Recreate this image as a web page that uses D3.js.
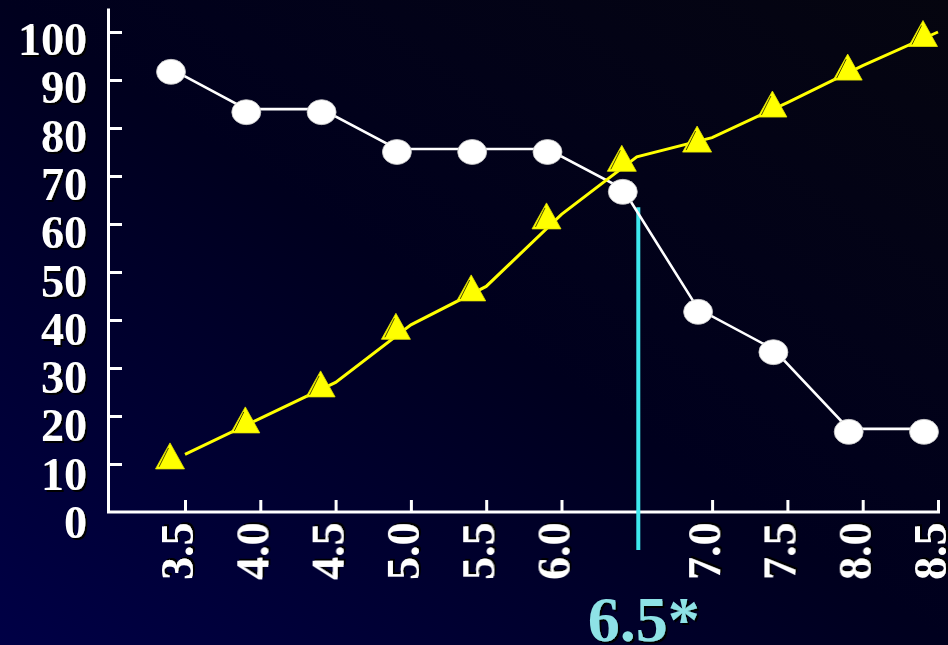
<!DOCTYPE html>
<html><head><meta charset="utf-8">
<script src="https://cdn.jsdelivr.net/npm/d3@7"></script>
<style>
html,body{margin:0;padding:0;background:#000020;}
svg{display:block;}
text{font-family:"Liberation Serif","Times New Roman",serif;font-weight:bold;}
</style></head>
<body>
<svg id="chart" width="948" height="645"></svg>
<script>
// ---- data ----
const cutoffs = [3.5, 4.0, 4.5, 5.0, 5.5, 6.0, 6.5, 7.0, 7.5, 8.0, 8.5];
const whiteSeries = [91.7, 83.3, 83.3, 75, 75, 75, 66.7, 41.7, 33.3, 16.7, 16.7];
const yellowSeries = [12, 19.5, 27, 39, 47, 62, 74, 78, 85.3, 93, 100];
const xTickValues = [3.5, 4.0, 4.5, 5.0, 5.5, 6.0, 7.0, 7.5, 8.0, 8.5];
const xTickLabels = ["3.5", "4.0", "4.5", "5.0", "5.5", "6.0", "7.0", "7.5", "8.0", "8.5"];
const yTickValues = [10, 20, 30, 40, 50, 60, 70, 80, 90, 100];
const yTickLabels = ["0", "10", "20", "30", "40", "50", "60", "70", "80", "90", "100"];
const yLabelValues = [0, 10, 20, 30, 40, 50, 60, 70, 80, 90, 100];
const cutoffValue = 6.5;
const cutoffLabel = "6.5*";
const cutoffTop = 63.5;

const svg = d3.select("#chart");
const W = 948, H = 645;

// background gradient
const defs = svg.append("defs");
const grad = defs.append("linearGradient").attr("id", "bg")
  .attr("x1", "0").attr("y1", "1").attr("x2", "1").attr("y2", "0");
grad.append("stop").attr("offset", "0").attr("stop-color", "#000046");
grad.append("stop").attr("offset", "0.5").attr("stop-color", "#00001e");
grad.append("stop").attr("offset", "1").attr("stop-color", "#05050f");
const sh = defs.append("filter").attr("id", "shadow")
  .attr("x", "-20%").attr("y", "-20%").attr("width", "140%").attr("height", "140%");
sh.append("feDropShadow").attr("dx", 2).attr("dy", 2).attr("stdDeviation", 0.4)
  .attr("flood-color", "#000").attr("flood-opacity", 1);

svg.append("rect").attr("width", W).attr("height", H).attr("fill", "url(#bg)");

// scales
const x = d3.scaleLinear().domain([3.5, 8.5]).range([185, 938]);
const y = d3.scaleLinear().domain([0, 105]).range([512, 8]);
const yLab = d3.scaleLinear().domain([0, 100]).range([538, 55]);

// y axis
const yAxisG = svg.append("g").attr("transform", "translate(108,0)")
  .call(d3.axisRight(y).tickValues(yTickValues).tickSizeInner(14).tickSizeOuter(0).tickFormat(""));
yAxisG.selectAll("path,line").attr("stroke", "#fff").attr("stroke-width", 3);

// x axis
const xAxisG = svg.append("g").attr("transform", "translate(0,512)")
  .call(d3.axisTop(x).tickValues(xTickValues).tickSizeInner(12).tickSizeOuter(0).tickFormat(""));
xAxisG.select("path.domain").attr("d", "M107,0H940");
xAxisG.selectAll("path,line").attr("stroke", "#fff").attr("stroke-width", 3);

// y labels
svg.append("g").selectAll("text").data(yLabelValues).join("text")
  .attr("x", 87).attr("y", d => yLab(d))
  .attr("text-anchor", "end").attr("fill", "#fff").attr("font-size", 46)
  .attr("filter", "url(#shadow)")
  .text((d, i) => yTickLabels[i]);

// x labels (rotated)
svg.append("g").selectAll("text").data(xTickValues).join("text")
  .attr("transform", d => `translate(${x(d) + 8},580) rotate(-90)`)
  .attr("text-anchor", "start").attr("fill", "#fff").attr("font-size", 46)
  .attr("filter", "url(#shadow)")
  .text((d, i) => xTickLabels[i]);

// cutoff line
svg.append("line")
  .attr("x1", x(cutoffValue) + 1.5).attr("x2", x(cutoffValue) + 1.5)
  .attr("y1", y(cutoffTop)).attr("y2", y(0) + 38)
  .attr("stroke", "#3ee8ee").attr("stroke-width", 4);
svg.append("text")
  .attr("x", x(cutoffValue) - 49).attr("y", 641)
  .attr("fill", "#8ee2e6").attr("font-size", 64)
  .attr("filter", "url(#shadow)")
  .text(cutoffLabel);

// white series
const whiteG = svg.append("g").attr("transform", "translate(-14,0)");
whiteG.append("path")
  .datum(cutoffs.map((c, i) => [c, whiteSeries[i]]))
  .attr("transform", "translate(0,-3)")
  .attr("fill", "none").attr("stroke", "#fff").attr("stroke-width", 2.6)
  .attr("d", d3.line().x(d => x(d[0])).y(d => y(d[1])));
whiteG.selectAll("ellipse").data(cutoffs).join("ellipse")
  .attr("cx", d => x(d)).attr("cy", (d, i) => y(whiteSeries[i]))
  .attr("rx", 14.5).attr("ry", 12.5)
  .attr("fill", "#fff").attr("stroke", "#c8c8c8").attr("stroke-width", 0.8);

// yellow series
svg.append("path")
  .datum(cutoffs.map((c, i) => [c, yellowSeries[i]]))
  .attr("fill", "none").attr("stroke", "#ffff00").attr("stroke-width", 3)
  .attr("d", d3.line().x(d => x(d[0])).y(d => y(d[1])));
const triG = svg.append("g").attr("transform", "translate(-15,1.5)");
const tri = triG.selectAll("g").data(cutoffs).join("g")
  .attr("transform", (d, i) => `translate(${x(d)},${y(yellowSeries[i])})`);
tri.append("path").attr("d", "M0,-13L14.5,13L-14.5,13Z")
  .attr("fill", "#ffff00").attr("stroke", "#e6e600").attr("stroke-width", 0.8);
tri.append("path").attr("d", "M-1.5,-8L-11,11")
  .attr("stroke", "#4a4a00").attr("stroke-width", 1).attr("fill", "none");
</script>
</body></html>
